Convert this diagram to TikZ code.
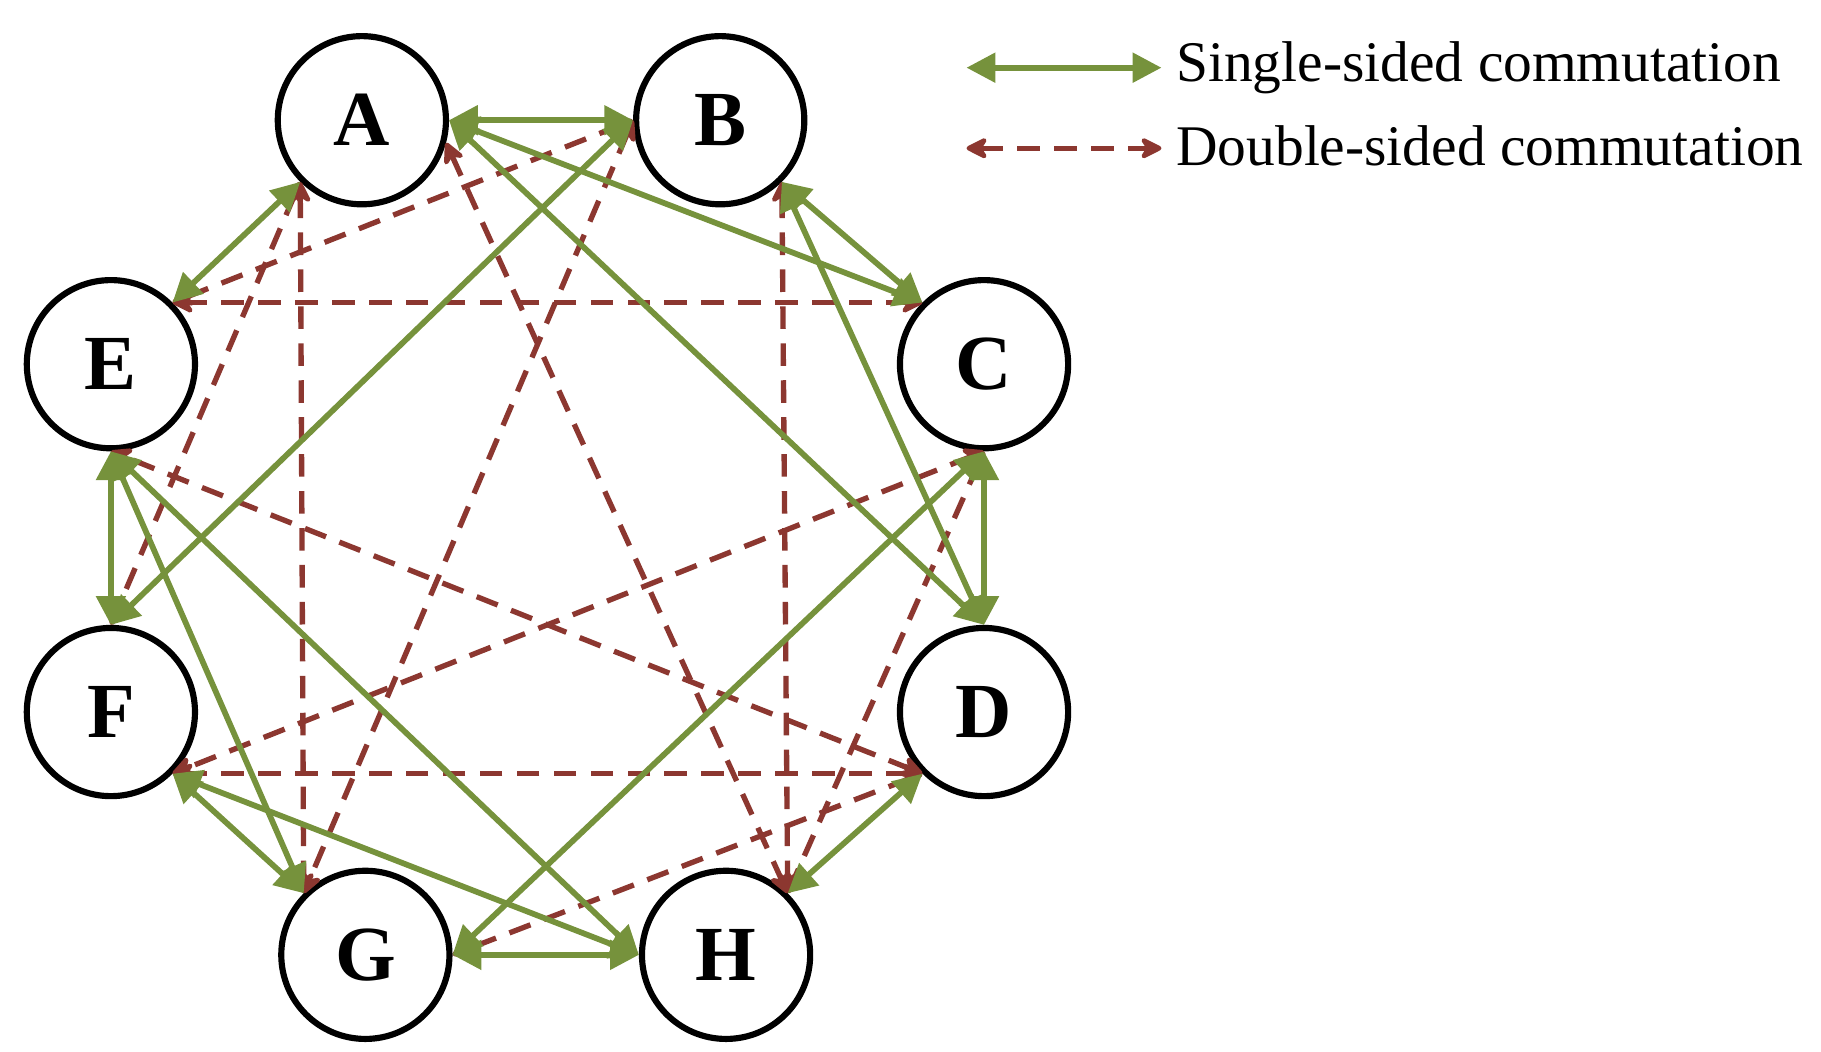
\documentclass[tikz,border=0pt]{standalone}
\usepackage{fontspec}
\setmainfont{Liberation Serif}
\usetikzlibrary{arrows.meta}
\definecolor{sgreen}{RGB}{118,146,60}
\definecolor{dred}{RGB}{140,55,48}
\tikzset{
  state/.style={circle, draw=black, line width=1.5pt, minimum size=1.44cm, inner sep=0pt, font=\fontsize{19}{19}\selectfont\bfseries},
  single/.style={draw=sgreen, line width=1.4pt, {Triangle[length=7pt,width=7pt]}-{Triangle[length=7pt,width=7pt]}},
  double/.style={draw=dred, line width=1.3pt, dash pattern=on 5.5pt off 3.5pt, {Stealth[length=6.5pt,width=6.5pt,round]}-{Stealth[length=6.5pt,width=6.5pt,round]}},
  legend/.style={anchor=west, inner sep=0pt, font=\fontsize{14}{14}\selectfont}
}
\begin{document}
\begin{tikzpicture}[x=0.01cm, y=-0.01cm]
    \useasboundingbox (0,0) rectangle (1560,901);
    \node[state] (A) at (310,103) {A};
    \node[state] (B) at (617,103) {B};
    \node[state] (C) at (843,312) {C};
    \node[state] (D) at (843,610) {D};
    \node[state] (E) at (95,312) {E};
    \node[state] (F) at (95,610) {F};
    \node[state] (G) at (313,818) {G};
    \node[state] (H) at (622,818) {H};
    % double-sided
    \draw[double] (A.225) -- (F.90);
    \draw[double] (A.225) -- (G.135);
    \draw[double] (A.345) -- (H.45);
    \draw[double] (B.180) -- (E.45);
    \draw[double] (B.180) -- (G.135);
    \draw[double] (B.315) -- (H.45);
    \draw[double] (C.135) -- (E.45);
    \draw[double] (C.270) -- (F.315);
    \draw[double] (C.270) -- (H.45);
    \draw[double] (D.225) -- (E.270);
    \draw[double] (D.225) -- (F.315);
    \draw[double] (D.225) -- (G.0);
    % single-sided
    \draw[single] (A.0) -- (B.180);
    \draw[single] (A.0) -- (C.135);
    \draw[single] (A.0) -- (D.90);
    \draw[single] (A.225) -- (E.45);
    \draw[single] (B.315) -- (C.135);
    \draw[single] (B.315) -- (D.90);
    \draw[single] (B.180) -- (F.90);
    \draw[single] (C.270) -- (D.90);
    \draw[single] (C.270) -- (G.0);
    \draw[single] (D.225) -- (H.45);
    \draw[single] (E.270) -- (F.90);
    \draw[single] (E.270) -- (G.135);
    \draw[single] (E.270) -- (H.180);
    \draw[single] (F.315) -- (G.135);
    \draw[single] (F.315) -- (H.180);
    \draw[single] (G.0) -- (H.180);
    % legend
    \coordinate (s1) at (828,58);
    \coordinate (s2) at (995,58);
    \coordinate (d1) at (828,127);
    \coordinate (d2) at (995,127);
    \draw[single] (s1) -- (s2);
    \draw[double] (d1) -- (d2);
    \node[legend] (ls) at (1007,58) {Single-sided commutation};
    \node[legend] (ld) at (1007,125) {Double-sided commutation};
\end{tikzpicture}
\end{document}
